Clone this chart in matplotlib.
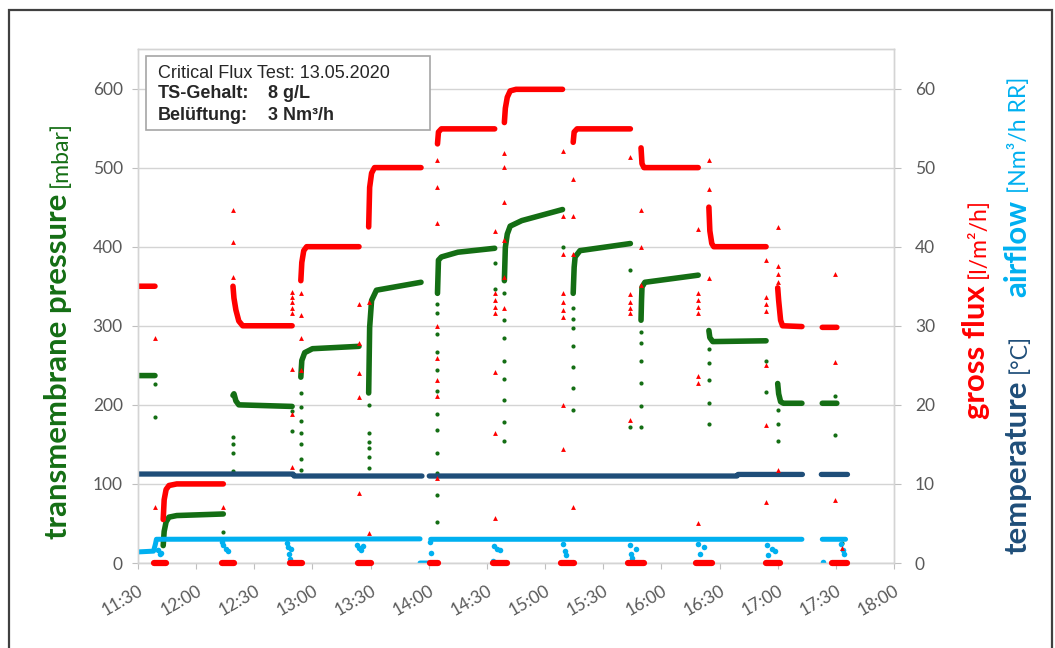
import numpy as np
import matplotlib
matplotlib.use('Agg')
import matplotlib.pyplot as plt
import matplotlib.dates as mdates
from matplotlib.patches import Rectangle
import pandas as pd

DAY = '2020-05-13 '
W, H = 1055, 648

# transmembrane pressure [mbar], steady phases (None splits the phases)
tmp_time = ['11:30:00', '11:38:45', None,
            '11:43:00', '11:43:30', '11:44:30', '11:46:00', '11:50:00', '12:14:00', None,
            '12:19:00', '12:19:30', '12:20:30', '12:22:00', '12:49:30', None,
            '12:54:00', '12:54:30', '12:56:00', '13:00:00', '13:24:00', None,
            '13:29:00', '13:29:30', '13:30:30', '13:33:00', '13:56:00', None,
            '14:04:30', '14:05:00', '14:06:30', '14:15:00', '14:34:00', None,
            '14:39:00', '14:39:30', '14:40:30', '14:42:00', '14:48:00', '15:09:00', None,
            '15:14:30', '15:15:00', '15:15:30', '15:18:00', '15:44:00', None,
            '15:49:30', '15:49:45', '15:50:00', '15:51:30', '16:19:00', None,
            '16:24:30', '16:25:00', '16:26:30', '16:54:00', None,
            '17:00:00', '17:00:30', '17:01:30', '17:03:00', '17:12:30', None,
            '17:23:00', '17:30:30']
tmp_value = [237, 237, None,
             22, 40, 52, 58, 60, 62, None,
             212, 214, 205, 200, 198, None,
             235, 256, 266, 271, 274, None,
             215, 298, 332, 345, 355, None,
             341, 383, 387, 393, 398, None,
             357, 399, 416, 426, 433, 447, None,
             341, 374, 387, 395, 404, None,
             307, 332, 349, 355, 364, None,
             294, 285, 280, 281, None,
             227, 214, 204, 202, 202, None,
             202, 202]

# single readings while the flux is switched
tmp_spikes = [('11:39:00', [226, 184]), ('12:14:00', [39.5]),
              ('12:19:00', [159, 150, 139, 116]), ('12:49:30', [192, 167]),
              ('12:54:00', [215, 197, 180, 165, 151, 132, 117]),
              ('13:29:00', [200, 165, 153, 145, 134, 120]),
              ('14:04:30', [328, 316, 290, 267, 244, 218, 189, 168, 139, 114, 86, 52]),
              ('14:34:00', [380, 347]),
              ('14:39:00', [341, 307, 284, 256, 233, 206, 178, 154]),
              ('15:09:00', [399]),
              ('15:14:30', [322, 309, 297, 275, 248, 221, 193]),
              ('15:44:00', [370, 172]),
              ('15:49:30', [292, 278, 256, 227, 199, 172]),
              ('16:24:30', [271, 253, 231, 202, 176]),
              ('16:54:00', [256, 216]), ('17:00:00', [193, 176, 154]),
              ('17:29:30', [211, 162]), ('17:33:00', [25])]

# gross flux [l/m2/h]
flux_time = ['11:30:00', '11:38:45', None,
             '11:43:00', '11:43:30', '11:44:30', '11:46:00', '11:50:00', '12:14:00', None,
             '12:19:00', '12:19:30', '12:20:30', '12:22:00', '12:24:00', '12:49:30', None,
             '12:54:00', '12:54:30', '12:55:30', '12:57:00', '13:24:00', None,
             '13:29:00', '13:29:30', '13:30:30', '13:32:00', '13:56:00', None,
             '14:04:30', '14:05:00', '14:06:30', '14:34:00', None,
             '14:39:00', '14:39:30', '14:40:30', '14:42:00', '14:45:00', '15:09:00', None,
             '15:14:30', '15:15:00', '15:16:30', '15:44:00', None,
             '15:49:30', '15:50:00', '15:51:00', '16:19:00', None,
             '16:24:30', '16:25:00', '16:26:00', '16:27:00', '16:54:00', None,
             '17:00:00', '17:00:30', '17:01:30', '17:02:30', '17:12:30', None,
             '17:23:00', '17:30:30']
flux_value = [35, 35, None,
              5.5, 8.0, 9.3, 9.8, 10.0, 10.0, None,
              35.0, 33.5, 32.0, 30.6, 30.0, 30.0, None,
              35.7, 38.0, 39.5, 40.0, 40.0, None,
              42.5, 47.5, 49.3, 50.0, 50.0, None,
              53.0, 54.5, 54.9, 54.9, None,
              55.7, 57.5, 58.9, 59.7, 59.9, 59.9, None,
              53.2, 54.5, 54.9, 54.9, None,
              52.5, 50.5, 50.0, 50.0, None,
              45.0, 42.0, 40.4, 40.0, 40.0, None,
              34.8, 33.2, 30.7, 30.0, 29.9, None,
              29.8, 29.8]

flux_spikes = [('11:39:00', [28.5, 7.1]), ('12:14:00', [7.1]),
               ('12:19:00', [44.6, 40.6, 36.2]),
               ('12:49:30', [34.3, 33.6, 33.0, 32.3, 31.6, 24.5, 18.9, 12.1]),
               ('12:54:00', [34.1, 31.3, 28.4, 24.4]),
               ('13:24:00', [32.8, 27.8, 24.0, 21.0, 8.8]),
               ('13:29:00', [33.0, 3.8]),
               ('14:04:30', [50.9, 47.5, 43.0, 30.0, 25.9, 23.2, 21.1, 10.7]),
               ('14:34:00', [42.0, 34.1, 33.2, 32.4, 31.6, 24.2, 16.5, 5.7]),
               ('14:39:00', [51.9, 50.1, 45.7, 40.8, 36.2, 32.2]),
               ('15:09:00', [52.1, 43.9, 39.1, 34.1, 33.0, 32.0, 31.1, 20.0, 14.4]),
               ('15:14:30', [48.6, 43.9, 39.1, 7.1]),
               ('15:44:00', [51.3, 34.0, 33.0, 32.3, 31.6, 18.1]),
               ('15:49:30', [44.7, 39.9, 35.1]),
               ('16:19:00', [42.3, 34.1, 33.2, 32.4, 31.6, 23.7, 22.7, 5.1]),
               ('16:24:30', [51.0, 47.3, 36.0]),
               ('16:54:00', [38.3, 33.6, 32.8, 31.9, 25.0, 17.4, 7.7]),
               ('17:00:00', [42.5, 37.6, 36.5, 35.5, 11.7]),
               ('17:29:30', [36.5, 25.4, 8.0]), ('17:33:00', [1.9])]

# periods with the permeate pump stopped (flux = 0)
flux_off = [('11:38:30', '11:44:30'), ('12:13:30', '12:19:30'), ('12:48:30', '12:54:30'),
            ('13:23:30', '13:30:00'), ('14:00:45', '14:05:00'), ('14:33:00', '14:40:30'),
            ('15:08:00', '15:15:00'), ('15:43:00', '15:51:00'), ('16:18:00', '16:26:00'),
            ('16:54:00', '17:01:00'), ('17:28:15', '17:35:30')]

# temperature [°C]
temp_time = ['11:30:00', '12:50:00', '12:50:30', '13:56:30', None,
             '14:00:15', '16:39:00', '16:39:30', '17:12:45', None,
             '17:22:30', '17:36:00']
temp_value = [11.25, 11.25, 11.0, 11.0, None,
              11.0, 11.0, 11.2, 11.2, None,
              11.2, 11.2]

# airflow [Nm3/h RR]
air_time = ['11:30:00', '11:38:00', '11:39:00', '11:39:30', '13:55:30', None,
            '13:55:30', '14:00:30', None,
            '14:01:00', '17:12:30', None,
            '17:23:00', '17:35:00']
air_value = [1.4, 1.5, 2.4, 3.0, 3.05, None,
             0, 0, None,
             3.0, 3.0, None,
             3.0, 3.0]

air_dips = [('11:40:30', [1.6]), ('11:41:30', [1.1]), ('11:42:00', [1.3]),
            ('12:13:30', [2.7]), ('12:14:00', [2.3]), ('12:15:30', [1.8]), ('12:16:30', [1.5]),
            ('12:47:00', [2.5]), ('12:47:30', [2.0]), ('12:48:00', [1.2]), ('12:48:30', [0.5]),
            ('12:49:00', [1.8]),
            ('13:23:00', [2.3]), ('13:24:00', [1.9]), ('13:25:00', [1.6]), ('13:26:00', [2.1]),
            ('14:00:30', [2.6]), ('14:01:00', [1.3]),
            ('14:33:00', [0.2]), ('14:33:30', [2.2]), ('14:35:00', [1.8]), ('14:37:00', [1.6]),
            ('15:09:00', [2.4]), ('15:10:30', [1.5]), ('15:11:00', [1.0]),
            ('15:44:00', [2.3]), ('15:44:30', [1.2]), ('15:45:00', [0.6]), ('15:47:00', [1.8]),
            ('16:19:00', [2.4]), ('16:20:00', [1.2]), ('16:22:00', [2.0]),
            ('16:54:30', [2.3]), ('16:55:00', [1.0]), ('16:57:00', [1.8]), ('16:58:30', [1.5]),
            ('17:23:30', [0.1]), ('17:32:30', [2.4]), ('17:33:30', [1.6]), ('17:34:00', [1.2])]

x_labels = ['11:30', '12:00', '12:30', '13:00', '13:30', '14:00', '14:30',
            '15:00', '15:30', '16:00', '16:30', '17:00', '17:30', '18:00']

GREEN = '#146E14'
RED = '#FF0000'
NAVY = '#1F4E79'
SKY = '#00B0F0'
GRID = '#D4D4D4'
TICK = '#595959'


def to_num(times):
    return np.array([mdates.date2num(pd.Timestamp(DAY + t)) if t else np.nan for t in times])


def to_val(values):
    return np.array([np.nan if v is None else v for v in values], dtype=float)


def spread(points):
    t, v = [], []
    for time, values in points:
        t += [time] * len(values)
        v += values
    return to_num(t), np.array(v, dtype=float)


def fx(x):
    return x / W


def fy(y):
    return 1 - y / H


plt.rcParams['font.family'] = 'Lato'
fig = plt.figure(figsize=(W / 100, H / 100), dpi=100)
ax = fig.add_axes([fx(138), fy(563), (894 - 138) / W, (563 - 49) / H])
ax2 = ax.twinx()

# left axis: TMP
ax.plot(to_num(tmp_time), to_val(tmp_value), color=GREEN, lw=4, solid_capstyle='round')
st, sv = spread(tmp_spikes)
ax.plot(st, sv, 'o', color=GREEN, ms=3, mew=0)

# right axis: flux, temperature, airflow
ax2.plot(to_num(air_time), to_val(air_value), color=SKY, lw=3.6, solid_capstyle='round')
at, av = spread(air_dips)
ax2.plot(at, av, 'o', color=SKY, ms=4, mew=0)
ax2.plot(to_num(temp_time), to_val(temp_value), color=NAVY, lw=3.8, solid_capstyle='round')
ax2.plot(to_num(flux_time), to_val(flux_value), color=RED, lw=4, solid_capstyle='round')
ft, fv = spread(flux_spikes)
ax2.plot(ft, fv, '^', color=RED, ms=3.5, mew=0)
for start, end in flux_off:
    ax2.plot(to_num([start, end]), [0, 0], color=RED, lw=4.5,
             solid_capstyle='round', clip_on=False, zorder=4)

x_ticks = to_num([s + ':00' for s in x_labels])
ax.set_xlim(x_ticks[0], x_ticks[-1])
ax.set_ylim(0, 650)
ax2.set_ylim(0, 65)
ax.set_yticks(range(0, 601, 100))
ax2.set_yticks(range(0, 61, 10))
ax.set_xticks(x_ticks)
ax.set_xticklabels(x_labels, rotation=30, ha='right', rotation_mode='anchor')

ax.yaxis.grid(True, color=GRID, lw=1.0)
ax.set_axisbelow(True)
for a in (ax, ax2):
    for sp in a.spines.values():
        sp.set_color(GRID)
        sp.set_linewidth(1.0)
ax.tick_params(axis='y', direction='out', length=4, color='#BFBFBF',
               labelcolor=TICK, labelsize=12.5, pad=7)
ax2.tick_params(axis='y', direction='out', length=5, color='#BFBFBF',
                labelcolor=TICK, labelsize=12.5, pad=10)
ax.tick_params(axis='x', direction='out', length=4, color='#BFBFBF',
               labelcolor=TICK, labelsize=12.5, pad=10)

# axis titles, written bottom to top: a bold name followed by a lighter unit
fig.canvas.draw()
renderer = fig.canvas.get_renderer()


def rotated(x, y, text, size, weight, color):
    return fig.text(fx(x), fy(y), text, rotation=90, rotation_mode='anchor',
                    ha='left', va='baseline', fontsize=size, fontweight=weight, color=color)


# size the left title so that it spans from y=539 to y=194
probe = rotated(67, 539, 'transmembrane pressure', 20, 'bold', GREEN)
title_size = 20 * (539 - 194) / probe.get_window_extent(renderer).height
probe.remove()
unit_size = 0.74 * title_size


def axis_title(x, y, name, unit, color):
    t = rotated(x, y, name, title_size, 'bold', color)
    top = t.get_window_extent(renderer).y1
    rotated(x, H - top - 7, unit, unit_size, 'normal', color)


axis_title(67, 539, 'transmembrane pressure', '[mbar]', GREEN)
axis_title(985, 419, 'gross flux', '[l/m²/h]', RED)
axis_title(1026, 554, 'temperature', '[°C]', NAVY)
axis_title(1026, 297, 'airflow', '[Nm³/h RR]', SKY)

# info box
fig.add_artist(Rectangle((fx(146), fy(130)), (430 - 146) / W, (130 - 56) / H,
                         transform=fig.transFigure, facecolor='white',
                         edgecolor='#A6A6A6', lw=1.2, zorder=2))
box_font = dict(family='Liberation Sans', fontsize=13, va='center', color='#262626')
fig.text(fx(158), fy(73), 'Critical Flux Test: 13.05.2020', **box_font)
fig.text(fx(158), fy(94), 'TS-Gehalt:', fontweight='bold', **box_font)
fig.text(fx(268), fy(94), '8 g/L', fontweight='bold', **box_font)
fig.text(fx(158), fy(115), 'Belüftung:', fontweight='bold', **box_font)
fig.text(fx(268), fy(115), '3 Nm³/h', fontweight='bold', **box_font)

# outer chart frame (open at the bottom edge)
fig.add_artist(Rectangle((fx(9), fy(662)), (1052 - 9) / W, (662 - 10) / H,
                         transform=fig.transFigure, fill=False,
                         edgecolor='#404040', lw=1.6, zorder=5))

fig.savefig('out.png', dpi=100)
